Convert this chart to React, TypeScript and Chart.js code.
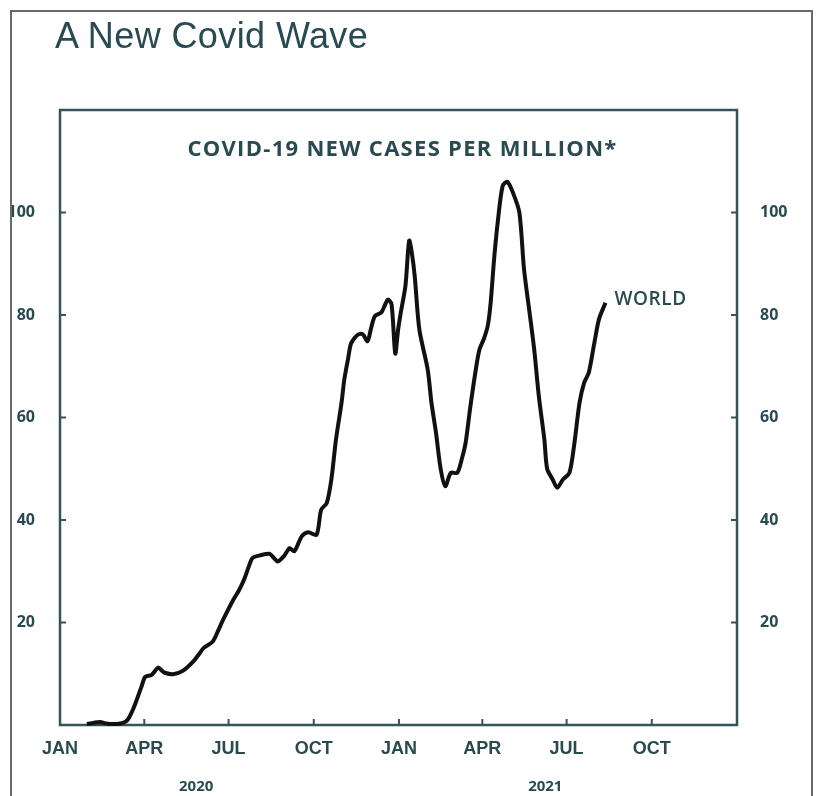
import { useEffect, useRef } from "react";
import { Chart, registerables } from "chart.js";

Chart.register(...registerables);

// Days since 1 Jan 2020
const days = [
  29, 36, 43, 50, 54, 61, 68, 73, 77, 81, 84, 88, 92, 99, 106, 110, 113, 122, 133, 144,
  150, 155, 165, 171, 176, 187, 193, 199, 204, 208, 216, 226, 231, 235, 242, 248, 253, 261, 268, 277,
  282, 288, 293, 298, 304, 307, 311, 314, 318, 322, 327, 332, 336, 340, 347, 351, 354, 358, 362, 365,
  368, 373, 377, 380, 383, 388, 397, 401, 406, 411, 416, 422, 429, 434, 438, 443, 449, 453, 458, 462,
  465, 469, 473, 478, 483, 489, 496, 501, 507, 512, 517, 523, 526, 532, 537, 543, 550, 555, 561, 566,
  571, 577, 582, 589,
];
// New cases per million (7-day average)
const cases = [
  0.2, 0.4, 0.6, 0.3, 0.2, 0.2, 0.4, 1.0, 2.3, 4.0, 5.5, 7.5, 9.4, 9.8, 11.2, 10.6, 10.2, 9.9, 10.6, 12.4,
  13.8, 15.0, 16.3, 18.5, 20.5, 24.4, 26.2, 28.5, 31.0, 32.6, 33.1, 33.4, 32.6, 31.9, 33.0, 34.5, 33.9, 36.8, 37.6, 37.1,
  42.0, 43.3, 47.9, 55.7, 62.9, 67.4, 71.4, 74.3, 75.5, 76.2, 76.2, 74.9, 77.5, 79.8, 80.5, 82.0, 83.0, 82.1, 72.5, 77.0,
  80.5, 85.7, 94.5, 92.0, 87.6, 77.2, 69.4, 63.0, 57.0, 50.0, 46.6, 49.2, 49.2, 52.0, 55.1, 62.0, 69.4, 73.3, 75.5, 78.0,
  82.4, 91.5, 98.7, 105.2, 106.0, 103.9, 100.0, 89.0, 80.5, 73.3, 64.2, 55.7, 50.0, 47.9, 46.3, 47.9, 49.2, 54.4, 62.9, 66.8,
  68.8, 74.6, 79.2, 82.4,
];

const tickDays = [0, 91, 182, 274, 366, 456, 547, 639];
const tickLabels = ["JAN", "APR", "JUL", "OCT", "JAN", "APR", "JUL", "OCT"];
const yTicks = [20, 40, 60, 80, 100];
const years = ["2020", "2021"];
const yearAnchorDays = [147, 524];
const seriesLabel = "WORLD";
const chartTitle = "COVID-19 NEW CASES PER MILLION*";
const pageTitle = "A New Covid Wave";

const TEAL = "#284a50";
const FRAME = "#35535a";

export default function App() {
  const ref = useRef<HTMLCanvasElement | null>(null);

  useEffect(() => {
    const canvas = ref.current;
    if (!canvas) return;

    const decor = {
      id: "decor",
      beforeDatasetsDraw(chart: any) {
        const { ctx, chartArea: a, scales } = chart;
        ctx.save();
        ctx.strokeStyle = FRAME;
        ctx.lineWidth = 2.5;
        ctx.strokeRect(a.left, a.top, a.right - a.left, a.bottom - a.top);
        ctx.lineWidth = 2;
        yTicks.forEach((v) => {
          const y = scales.y.getPixelForValue(v);
          ctx.beginPath();
          ctx.moveTo(a.left, y);
          ctx.lineTo(a.left + 6, y);
          ctx.moveTo(a.right, y);
          ctx.lineTo(a.right - 6, y);
          ctx.stroke();
        });
        tickDays.forEach((d, i) => {
          if (i === 0) return;
          const x = scales.x.getPixelForValue(d);
          ctx.beginPath();
          ctx.moveTo(x, a.bottom);
          ctx.lineTo(x, a.bottom - 6);
          ctx.stroke();
        });
        ctx.restore();
      },
      afterDraw(chart: any) {
        const { ctx, chartArea: a, scales } = chart;
        ctx.save();
        ctx.fillStyle = TEAL;
        ctx.textBaseline = "middle";
        // chart title
        ctx.font = "700 22px 'Open Sans'";
        (ctx as any).letterSpacing = "1.3px";
        ctx.textAlign = "center";
        ctx.fillText(chartTitle, (a.left + a.right) / 2 + 4, a.top + 40);
        // series label
        const meta = chart.getDatasetMeta(0);
        const last = meta.data[meta.data.length - 1];
        ctx.font = "600 19px 'Open Sans'";
        (ctx as any).letterSpacing = "0.6px";
        ctx.textAlign = "left";
        ctx.fillText(seriesLabel, last.x + 9, last.y - 3);
        (ctx as any).letterSpacing = "0px";
        // years
        ctx.font = "700 15px 'Open Sans'";
        ctx.textAlign = "center";
        years.forEach((t, i) => {
          ctx.fillText(t, scales.x.getPixelForValue(yearAnchorDays[i]), a.bottom + 62);
        });
        ctx.restore();
      },
    };

    const yTickCfg = {
      font: { family: "'Open Sans'", size: 16, weight: "700" as const },
      color: TEAL,
    };

    const chart = new Chart(canvas, {
      type: "line",
      data: {
        datasets: [
          {
            data: days.map((d, i) => ({ x: d, y: cases[i] })),
            borderColor: "#111111",
            borderWidth: 4,
            pointRadius: 0,
            tension: 0.28,
            fill: false,
            clip: 6,
            yAxisID: "y",
          },
        ],
      },
      options: {
        responsive: false,
        animation: false,
        layout: { padding: { top: 110, left: 0, right: 0, bottom: 0 } },
        plugins: { legend: { display: false }, tooltip: { enabled: false }, title: { display: false } },
        scales: {
          x: {
            type: "linear",
            min: 0,
            max: 731,
            grid: { display: false, drawTicks: false },
            border: { display: false },
            afterBuildTicks: (s: any) => {
              s.ticks = tickDays.map((v) => ({ value: v }));
            },
            afterFit: (s: any) => {
              s.height = 71;
            },
            ticks: {
              autoSkip: false,
              maxRotation: 0,
              padding: 13,
              color: TEAL,
              font: { family: "'Liberation Sans'", size: 18, weight: "700" },
              callback: (v: any) => tickLabels[tickDays.indexOf(Number(v))] ?? "",
            },
          },
          y: {
            type: "linear",
            position: "left",
            min: 0,
            max: 120,
            grid: { display: false, drawTicks: false },
            border: { display: false },
            afterBuildTicks: (s: any) => {
              s.ticks = yTicks.map((v) => ({ value: v }));
            },
            afterFit: (s: any) => {
              s.width = 60;
            },
            ticks: { ...yTickCfg, padding: 25 },
          },
          y2: {
            type: "linear",
            position: "right",
            min: 0,
            max: 120,
            grid: { display: false, drawTicks: false },
            border: { display: false },
            afterBuildTicks: (s: any) => {
              s.ticks = yTicks.map((v) => ({ value: v }));
            },
            afterFit: (s: any) => {
              s.width = 82;
            },
            ticks: { ...yTickCfg, padding: 23 },
          },
        },
      },
      plugins: [decor],
    });

    return () => chart.destroy();
  }, []);

  return (
    <div
      style={{
        position: "fixed",
        left: 0,
        top: 0,
        width: 819,
        height: 796,
        background: "#ffffff",
        overflow: "hidden",
      }}
    >
      <div
        style={{
          position: "absolute",
          left: 10,
          top: 10,
          width: 799,
          height: 800,
          borderLeft: "2px solid #6a6a6a",
          borderTop: "2px solid #6a6a6a",
          borderRight: "2px solid #6a6a6a",
          overflow: "hidden",
          background: "#ffffff",
        }}
      >
        <canvas
          ref={ref}
          width={819}
          height={796}
          style={{ position: "absolute", left: -12, top: -12, width: 819, height: 796 }}
        />
        <div
          style={{
            position: "absolute",
            left: 43,
            top: 7,
            fontFamily: "'Liberation Sans', Arial, sans-serif",
            fontSize: 36,
            lineHeight: "34px",
            letterSpacing: "0.4px",
            color: TEAL,
            whiteSpace: "nowrap",
          }}
        >
          {pageTitle}
        </div>
      </div>
    </div>
  );
}
